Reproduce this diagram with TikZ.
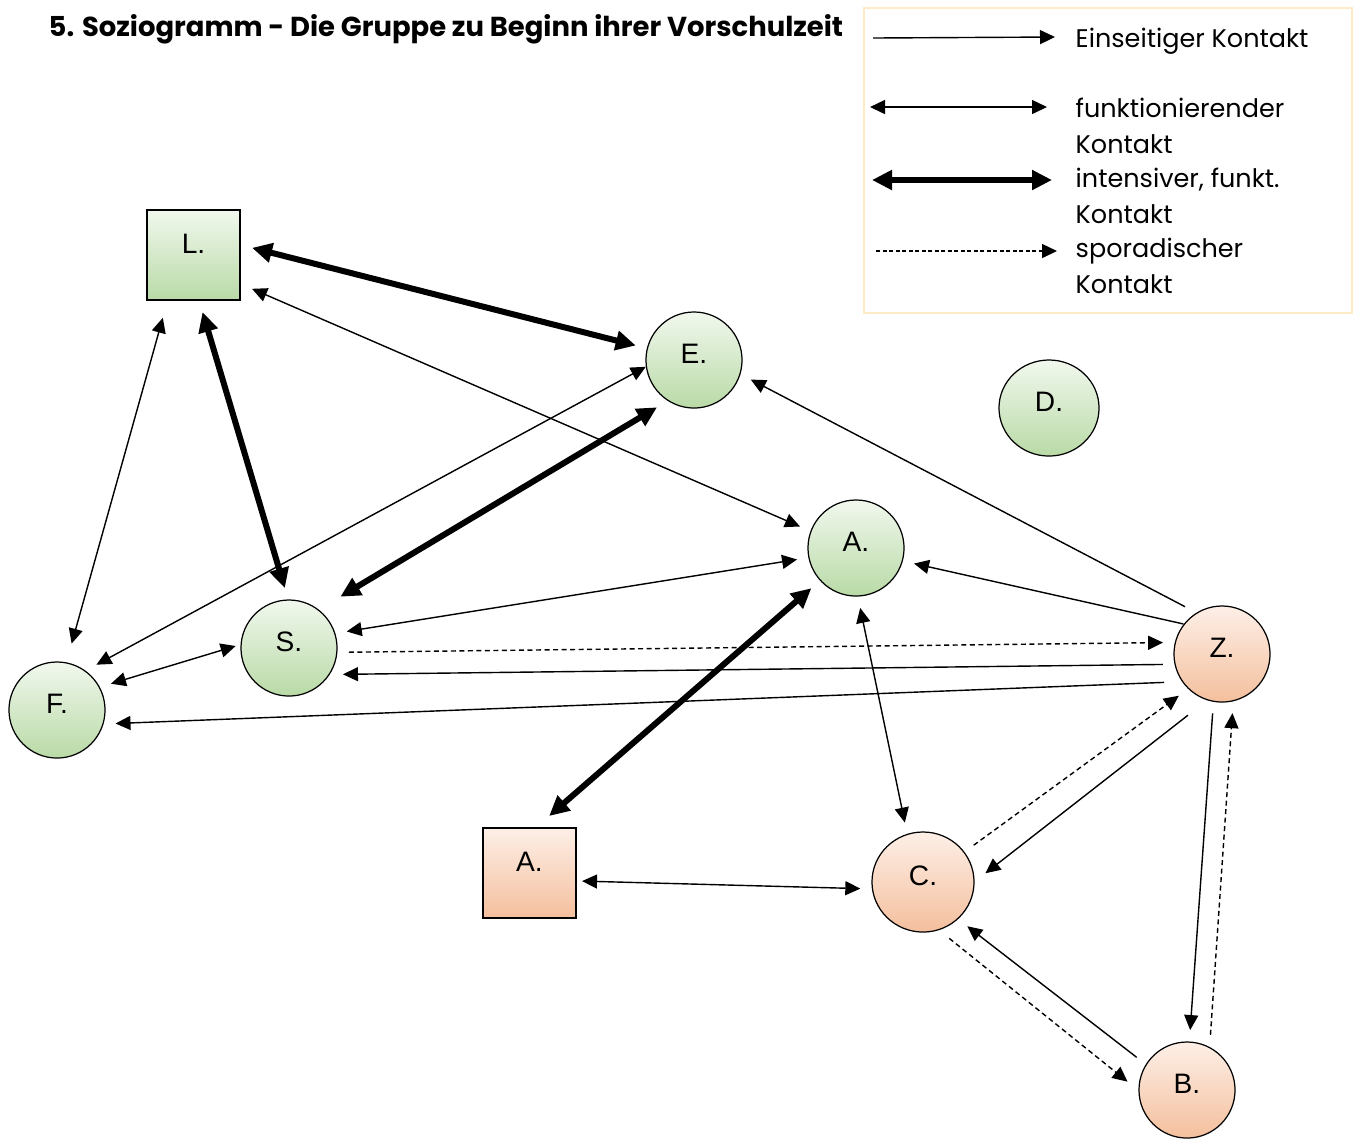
\documentclass[tikz,border=0pt]{standalone}
\usepackage{fontspec}
\setmainfont{Liberation Sans}
\newfontfamily\gothic{Poppins}
\usetikzlibrary{arrows.meta,shapes.geometric}

\definecolor{gruenoben}{HTML}{F1F8EE}
\definecolor{gruenunten}{HTML}{B9DAA6}
\definecolor{orangeoben}{HTML}{FDEFE7}
\definecolor{orangeunten}{HTML}{F4BF9D}
\definecolor{rahmen}{HTML}{FCEBC6}

\tikzset{
  kind/.style={ellipse, draw, line width=0.35pt, minimum width=0.96cm, minimum height=0.96cm,
    inner sep=0pt, outer sep=0.12cm, font=\fontsize{8}{9}\selectfont,
    text height=0.2cm, text depth=0.14cm},
  erwachsener/.style={kind, rectangle, minimum width=0.93cm, minimum height=0.9cm, text depth=0.24cm},
  gruen/.style={top color=gruenoben, bottom color=gruenunten},
  orange/.style={top color=orangeoben, bottom color=orangeunten},
  kontakt/.style={line width=0.4pt},
  einseitig/.style={kontakt, -{Triangle[length=0.15cm,width=0.14cm]}},
  beidseitig/.style={kontakt, {Triangle[length=0.15cm,width=0.14cm]}-{Triangle[length=0.15cm,width=0.14cm]}},
  intensiv/.style={line width=0.06cm, {Triangle[length=0.2cm,width=0.19cm]}-{Triangle[length=0.2cm,width=0.19cm]}},
  sporadisch/.style={einseitig, dash pattern=on 0.05cm off 0.035cm},
  legende/.style={font=\gothic\fontsize{7.25}{10.1}\selectfont, align=left, inner sep=0pt},
}

\begin{document}
\begin{tikzpicture}[x=0.01cm, y=-0.01cm]
		%%%%% START %%%%%
		\useasboundingbox (0,0) rectangle (1355,1138);
		
		\node[font=\gothic\bfseries\fontsize{7.8}{9}\selectfont, anchor=base west, inner sep=0pt] (titel) at (48,36) {5. Soziogramm - Die Gruppe zu Beginn ihrer Vorschulzeit};
		
		% Legende
		\draw[rahmen, line width=0.6pt] (864,8) rectangle (1352,313);
		\coordinate (l1a) at (873,38);  \coordinate (l1b) at (1055,37);
		\coordinate (l2a) at (870,107); \coordinate (l2b) at (1047,107);
		\coordinate (l3a) at (872,180); \coordinate (l3b) at (1052,180);
		\coordinate (l4a) at (876,251); \coordinate (l4b) at (1057,251);
		\draw[einseitig] (l1a) -- (l1b);
		\draw[beidseitig] (l2a) -- (l2b);
		\draw[intensiv] (l3a) -- (l3b);
		\draw[sporadisch, dash pattern=on 0.04cm off 0.025cm] (l4a) -- (l4b);
		\node[legende, anchor=base west] (t1) at (1075,47) {Einseitiger Kontakt};
		\node[legende, anchor=base west] (t2) at (1075,153) {funktionierender\\Kontakt};
		\node[legende, anchor=base west] (t3) at (1075,223) {intensiver, funkt.\\Kontakt};
		\node[legende, anchor=base west] (t4) at (1075,293) {sporadischer\\Kontakt};
		
		% Personen
		\node[erwachsener, gruen] (L) at (193.5,255) {L.};
		\node[kind, gruen] (E) at (694,360) {E.};
		\node[kind, gruen, minimum width=1cm] (D) at (1049,408) {D.};
		\node[kind, gruen] (Ag) at (856,548) {A.};
		\node[kind, gruen] (S) at (289,648) {S.};
		\node[kind, gruen] (F) at (57,710) {F.};
		\node[kind, orange] (Z) at (1222,654) {Z.};
		\node[erwachsener, orange] (As) at (529.5,873) {A.};
		\node[kind, orange, minimum width=1.02cm, minimum height=1cm] (C) at (923,882) {C.};
		\node[kind, orange] (B) at (1187,1090) {B.};
		
		% Kontakte
		\draw[intensiv] (L.7) -- (E.166);
		\draw[intensiv] (L.-81) -- (S.94);
		\draw[intensiv, shorten <=0.13cm] (S.48) -- (E.-128);
		\draw[intensiv] (As.71) -- (Ag.-138);
		
		\draw[beidseitig] (L.-30) -- (Ag.159);
		\draw[beidseitig, shorten <=0.06cm, shorten >=0.08cm] (L.-117) -- (F.78);
		\draw[beidseitig, shorten <=-0.12cm] (E.-168) -- (F.49);
		\draw[beidseitig, shorten >=-0.07cm] (F.26) -- (S.180);
		\draw[beidseitig] (S.16) -- (Ag.-169);
		\draw[beidseitig] (Ag.-86) -- (C.107);
		\draw[beidseitig, shorten <=-0.06cm] (As.-8) -- (C.-174);
		
		\draw[einseitig, shorten <=-0.12cm] (Z.147) -- (Ag.-15);
		\draw[einseitig] (Z.128) -- (E.-19);
		\draw[einseitig] (Z.-170) -- (S.-26);
		\draw[einseitig, shorten <=0.05cm] (Z.-152) -- (F.-13);
		\draw[einseitig, shorten <=0.11cm] (Z.-115) -- (C.8);
		\draw[einseitig] (Z.-99) -- (B.87);
		\draw[einseitig] (B.147) -- (C.-45);
		
		\draw[sporadisch] (S.-4) -- (Z.169);
		\draw[sporadisch] (C.36) -- (Z.-136);
		\draw[sporadisch] (B.67) -- (Z.-80);
		\draw[sporadisch] (C.-65) -- (B.172);
		
		%%%%% END %%%%%
	\end{tikzpicture}
\end{document}
